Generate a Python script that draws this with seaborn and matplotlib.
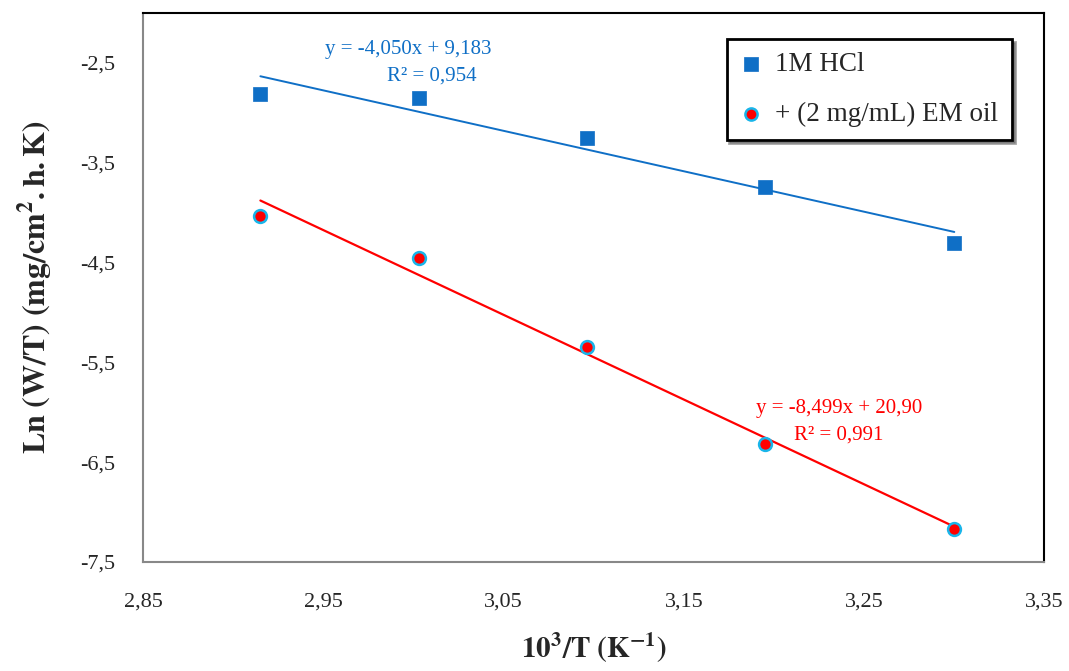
import numpy as np
import pandas as pd
import matplotlib
matplotlib.use("Agg")
import matplotlib.pyplot as plt
import seaborn as sns

# 10^3/T values (K^-1) and Ln(W/T)
inv_t = [2.915, 3.003, 3.096, 3.195, 3.300]
ln_hcl = [-2.81, -2.85, -3.25, -3.74, -4.30]
ln_oil = [-4.03, -4.45, -5.35, -6.32, -7.17]

series_labels = ["1M HCl", "+ (2 mg/mL) EM oil"]
fit_hcl = ["y = -4,050x + 9,183", "R² = 0,954"]
fit_oil = ["y = -8,499x + 20,90", "R² = 0,991"]

x_ticks = [2.85, 2.95, 3.05, 3.15, 3.25, 3.35]
y_ticks = [-7.5, -6.5, -5.5, -4.5, -3.5, -2.5]

blue = "#0F6FC6"
red = "#FF0000"
cyan = "#19B5EA"

sns.set_style("white")
plt.rcParams["font.family"] = ["Liberation Serif", "DejaVu Serif"]
plt.rcParams["mathtext.fontset"] = "stix"

df = pd.DataFrame({"x": inv_t, "hcl": ln_hcl, "oil": ln_oil})

fig = plt.figure(figsize=(10.69, 6.71), dpi=100)
ax = fig.add_axes([0.134, 0.1625, 0.843, 0.818])

sns.regplot(data=df, x="x", y="hcl", ci=None, truncate=True, ax=ax,
            marker="s", label=series_labels[0],
            scatter_kws={"s": 100, "color": blue, "edgecolors": blue, "linewidths": 0.5,
                         "alpha": 1, "zorder": 3},
            line_kws={"color": blue, "lw": 1.4, "zorder": 2})
sns.regplot(data=df, x="x", y="oil", ci=None, truncate=True, ax=ax,
            marker="o", label=series_labels[1],
            scatter_kws={"s": 85, "color": red, "edgecolors": cyan, "linewidths": 1.8,
                         "alpha": 1, "zorder": 3},
            line_kws={"color": red, "lw": 1.6, "zorder": 2})

ax.set_xlim(2.85, 3.35)
ax.set_ylim(-7.5, -2.0)
ax.set_xticks(x_ticks)
ax.set_yticks(y_ticks)
ax.set_xticklabels([f"{v:.2f}".replace(".", ",") for v in x_ticks])
ax.set_yticklabels([f"{v:.1f}".replace(".", ",") for v in y_ticks])
ax.tick_params(axis="both", direction="out", length=6, width=1.2, color="#888888",
               labelsize=16)
ax.tick_params(axis="x", pad=16)
ax.tick_params(axis="y", pad=14)

for side in ["left", "bottom"]:
    ax.spines[side].set_color("#888888")
    ax.spines[side].set_linewidth(1.5)
for side in ["top", "right"]:
    ax.spines[side].set_color("black")
    ax.spines[side].set_linewidth(1.5)

ax.set_xlabel(r"$\mathbf{10^{3}/T\ (K^{-1})}$", fontsize=21, labelpad=14)
ax.set_ylabel(r"$\mathbf{Ln\ (W/T)\ (mg/cm^{2}.h.K)}$", fontsize=23, labelpad=18)

ax.text(2.997, -2.36, fit_hcl[0], color=blue, fontsize=15, ha="center", va="center")
ax.text(3.010, -2.63, fit_hcl[1], color=blue, fontsize=15, ha="center", va="center")
ax.text(3.236, -5.96, fit_oil[0], color=red, fontsize=15, ha="center", va="center")
ax.text(3.236, -6.23, fit_oil[1], color=red, fontsize=15, ha="center", va="center")

leg = ax.legend(loc="upper right", bbox_to_anchor=(0.964, 0.953), fontsize=19.5,
                frameon=True, fancybox=False, shadow=True, edgecolor="black",
                handletextpad=0.5, handlelength=0.8, labelspacing=0.9,
                borderpad=0.5, borderaxespad=0.0, markerscale=0.95)
leg.get_frame().set_linewidth(2)

fig.savefig("out.png", dpi=100)
